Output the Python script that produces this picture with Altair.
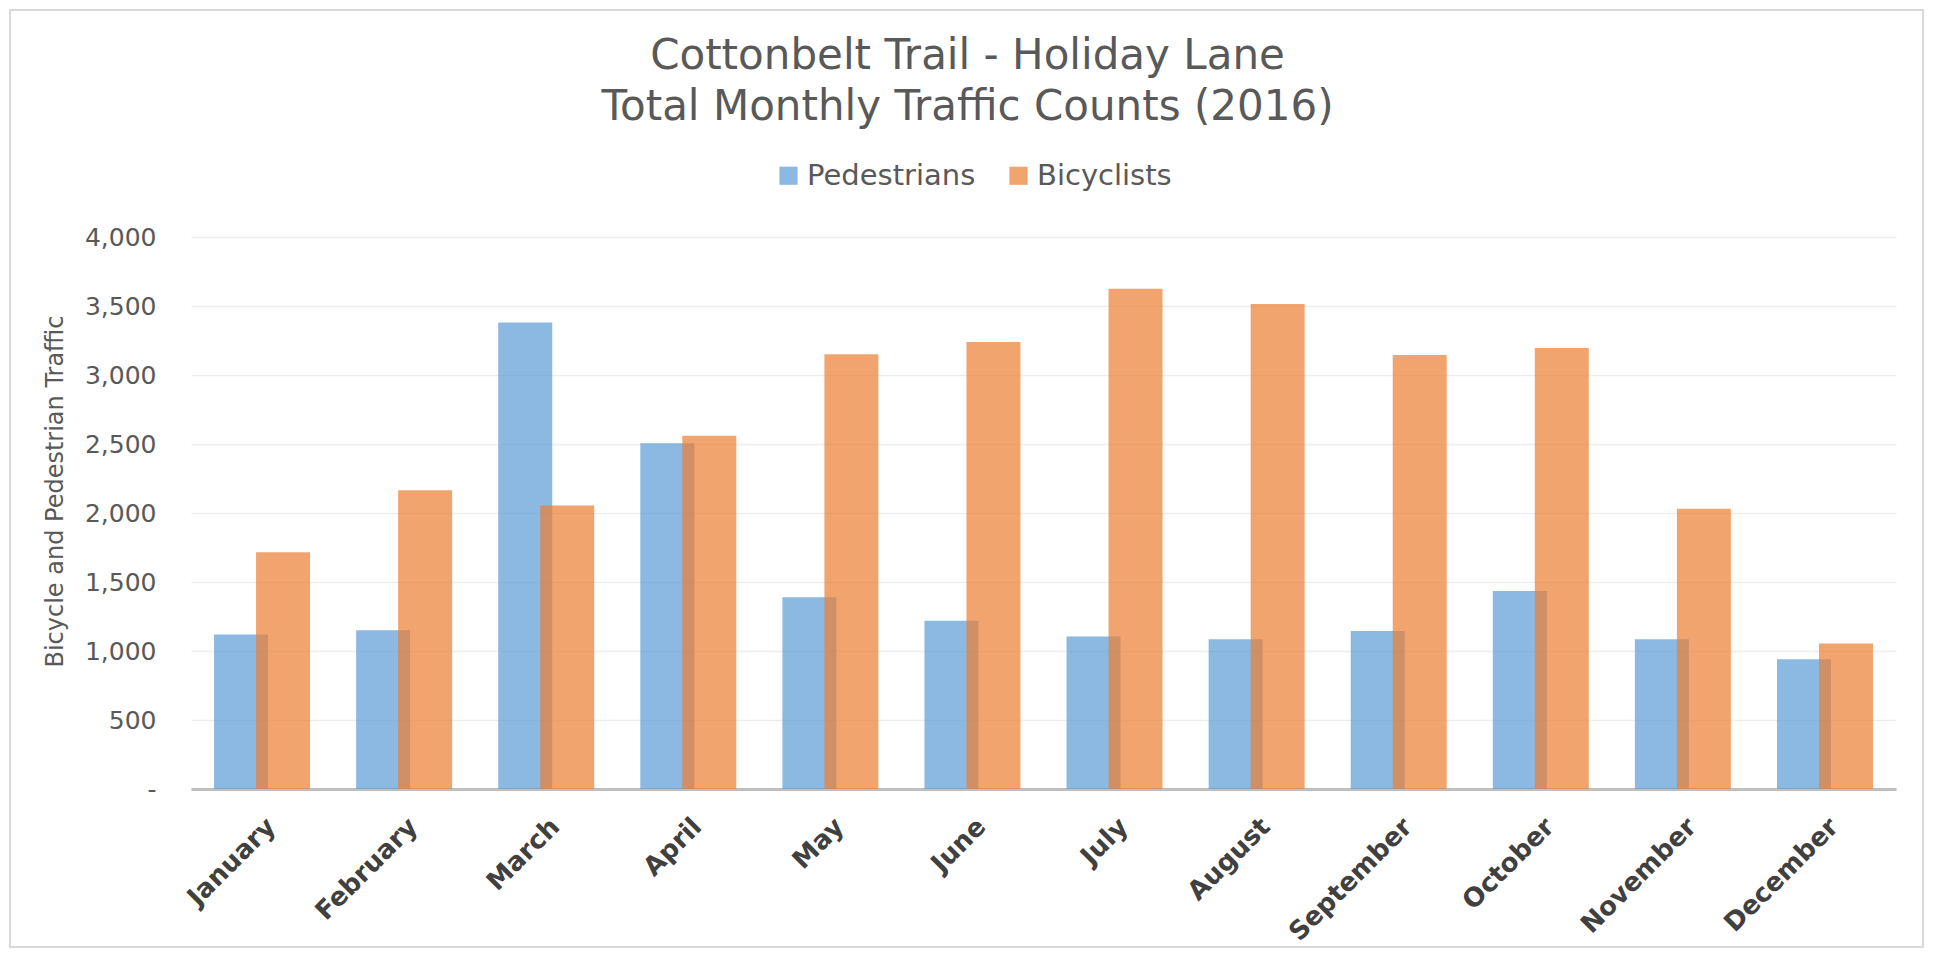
import altair as alt
import pandas as pd

months = ["January", "February", "March", "April", "May", "June", "July",
          "August", "September", "October", "November", "December"]
pedestrians = [1120, 1150, 3380, 2505, 1390, 1220, 1105, 1085, 1145, 1435, 1085, 940]
bicyclists = [1715, 2165, 2055, 2560, 3150, 3240, 3625, 3515, 3145, 3195, 2030, 1055]
series = ["Pedestrians", "Bicyclists"]
colors = ["#5B9BD5", "#ED7D31"]
y_ticks = [0, 500, 1000, 1500, 2000, 2500, 3000, 3500, 4000]

rows = []
for m, p, b in zip(months, pedestrians, bicyclists):
    rows.append({"month": m, "series": "Pedestrians", "value": p})
    rows.append({"month": m, "series": "Bicyclists", "value": b})
df = pd.DataFrame(rows)

FONT = "DejaVu Sans"
W, H = 1705, 552

x_enc = alt.X("month:N", sort=months,
              scale=alt.Scale(paddingInner=0, paddingOuter=0),
              axis=alt.Axis(title=None, labelAngle=-45, labelAlign="right",
                            labelBaseline="top", labelFontWeight="bold",
                            labelFontSize=26, labelColor="#404040", labelFont=FONT,
                            labelPadding=24, ticks=False, domainColor="#BFBFBF",
                            domainWidth=3, grid=False))
y_enc = alt.Y("value:Q",
              scale=alt.Scale(domain=[0, 4000], nice=False),
              axis=alt.Axis(title="Bicycle and Pedestrian Traffic", values=y_ticks,
                            labelExpr="datum.value == 0 ? '-\u00a0\u00a0\u00a0' : format(datum.value, ',')",
                            labelFontSize=25, labelColor="#595959", labelFont=FONT,
                            labelPadding=35, titleFont=FONT, titleFontSize=24,
                            titleFontWeight="normal", titleColor="#595959",
                            titlePadding=17, titleY=254, domain=False, ticks=False,
                            gridColor="#EDEDED", gridWidth=1.5))
color_enc = alt.Color("series:N",
                      scale=alt.Scale(domain=series, range=colors),
                      legend=alt.Legend(title=None, orient="none", direction="horizontal",
                                        legendX=583, legendY=-76,
                                        symbolType="square", symbolSize=330,
                                        symbolOpacity=0.7, symbolStrokeWidth=0,
                                        labelFont=FONT, labelFontSize=29,
                                        labelColor="#595959", labelOffset=4,
                                        labelLimit=400, columnPadding=28))

base = alt.Chart(df)

ped_bars = base.transform_filter(alt.datum.series == "Pedestrians").mark_bar(
    width=54, xOffset=-21, opacity=0.7).encode(x=x_enc, y=y_enc, color=color_enc)
bic_bars = base.transform_filter(alt.datum.series == "Bicyclists").mark_bar(
    width=54, xOffset=21, opacity=0.7).encode(x=x_enc, y=y_enc, color=color_enc)

border = alt.Chart(pd.DataFrame({"a": [0]})).mark_rect(
    fill=None, stroke="#D9D9D9", strokeWidth=2).encode(
    x=alt.value(-181), x2=alt.value(W + 27), y=alt.value(-227), y2=alt.value(H + 158))

chart = alt.layer(border, ped_bars, bic_bars).properties(
    width=W, height=H,
    title=alt.TitleParams(
        text=["Cottonbelt Trail - Holiday Lane", "Total Monthly Traffic Counts (2016)"],
        anchor="middle", frame="group", dx=-76, offset=-120,
        font=FONT, fontSize=42, fontWeight="normal", color="#595959", lineHeight=51),
    autosize=alt.AutoSizeParams(type="none"),
    padding={"left": 183, "top": 229, "right": 29, "bottom": 160},
).configure(background="white", view=alt.ViewConfig(stroke=None))

chart.save("out.html", embed_options={"renderer": "svg", "actions": False})
